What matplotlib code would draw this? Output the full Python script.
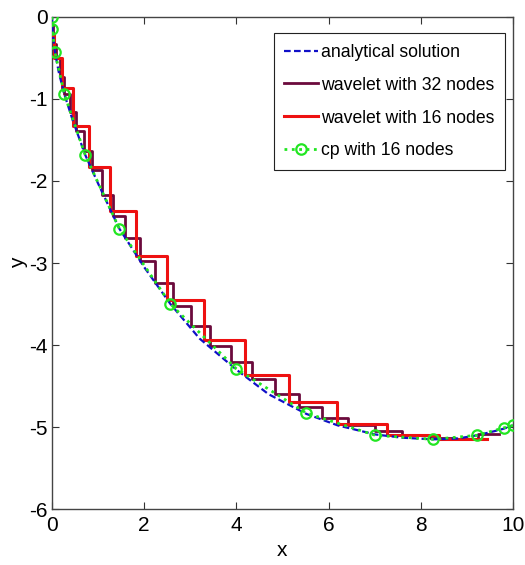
import numpy as np
import matplotlib
matplotlib.use('Agg')
import matplotlib.pyplot as plt

plt.rcParams['font.family'] = ['Liberation Sans', 'DejaVu Sans']
plt.rcParams['axes.unicode_minus'] = False

# analytical solution
x_exact = [0, 0.01, 0.065, 0.15, 0.27, 0.45, 0.72, 1.0, 1.46, 2.0, 2.57, 3.2,
           4.0, 4.7, 5.52, 6.2, 7.01, 7.6, 8.27, 8.8, 9.23, 9.6, 9.8, 10]
y_exact = [0, -0.15, -0.43, -0.68, -0.945, -1.26, -1.68, -2.03, -2.58, -3.05, -3.50, -3.92,
           -4.30, -4.60, -4.84, -4.98, -5.09, -5.13, -5.15, -5.14, -5.10, -5.05, -5.02, -4.98]

# wavelet with 32 nodes (left edge of each step and its level)
x_w32 = [0, 0.03, 0.09, 0.17, 0.27, 0.39, 0.53, 0.69, 0.86, 1.08, 1.32, 1.58, 1.91,
         2.23, 2.62, 3.01, 3.43, 3.88, 4.35, 4.84, 5.36, 5.85, 6.43, 7.0, 7.6, 8.2,
         8.75, 9.25, 9.7]
y_w32 = [-0.10, -0.33, -0.50, -0.73, -0.945, -1.16, -1.39, -1.64, -1.86, -2.17, -2.43,
         -2.69, -2.98, -3.24, -3.52, -3.77, -4.01, -4.21, -4.42, -4.60, -4.76, -4.89,
         -4.98, -5.05, -5.10, -5.13, -5.14, -5.08, -5.08]

# wavelet with 16 nodes
x_w16 = [0, 0.05, 0.22, 0.46, 0.81, 1.26, 1.82, 2.50, 3.30, 4.19, 5.15, 6.18, 7.26,
         8.4, 9.44]
y_w16 = [-0.22, -0.50, -0.87, -1.33, -1.83, -2.37, -2.91, -3.45, -3.94, -4.36, -4.70,
         -4.96, -5.10, -5.15, -5.15]

# collocation points
x_cp = [0, 0.008, 0.065, 0.27, 0.72, 1.46, 2.57, 4.0, 5.52, 7.01, 8.27, 9.23, 9.8, 10]
y_cp = [0, -0.15, -0.43, -0.945, -1.68, -2.58, -3.50, -4.29, -4.83, -5.10, -5.15,
        -5.10, -5.01, -4.98]

fig = plt.figure(figsize=(5.25, 5.65), dpi=100)
ax = fig.add_axes([0.099, 0.099, 0.878, 0.871])

ax.plot(x_exact, y_exact, '--', color='#1010c8', lw=1.6, dashes=(3, 1.5),
        label='analytical solution', zorder=4)
ax.plot(x_w32, y_w32, drawstyle='steps-post', color='#6b0a3c', lw=2.0,
        label='wavelet with 32 nodes', zorder=2)
ax.plot(x_w16, y_w16, drawstyle='steps-post', color='#ee1111', lw=2.2,
        label='wavelet with 16 nodes', zorder=3)
ax.plot(x_cp, y_cp, ':', color='#22e622', lw=2.0, marker='o', markersize=7.5,
        markerfacecolor='none', markeredgewidth=1.6,
        label='cp with 16 nodes', zorder=5)

ax.set_xlim(0, 10)
ax.set_ylim(-6, 0)
ax.set_xticks(np.arange(0, 11, 2))
ax.set_yticks(np.arange(-6, 1, 1))
ax.tick_params(direction='in', top=True, right=True, length=5, labelsize=15,
               color='#333333')
ax.tick_params(axis='x', pad=5)
ax.tick_params(axis='y', pad=3)
for s in ax.spines.values():
    s.set_color('#444444')
    s.set_linewidth(1.0)

ax.set_xlabel('x', fontsize=15, labelpad=4)
ax.set_ylabel('y', fontsize=15, labelpad=1)

leg = ax.legend(loc='upper right', bbox_to_anchor=(0.983, 0.967), borderaxespad=0,
                fontsize=12.7, labelspacing=0.9, handlelength=1.9,
                handletextpad=0.2, borderpad=0.6, fancybox=False, framealpha=1)
leg.get_frame().set_edgecolor('#222222')
leg.get_frame().set_linewidth(0.8)

fig.savefig('out.png', dpi=100)
